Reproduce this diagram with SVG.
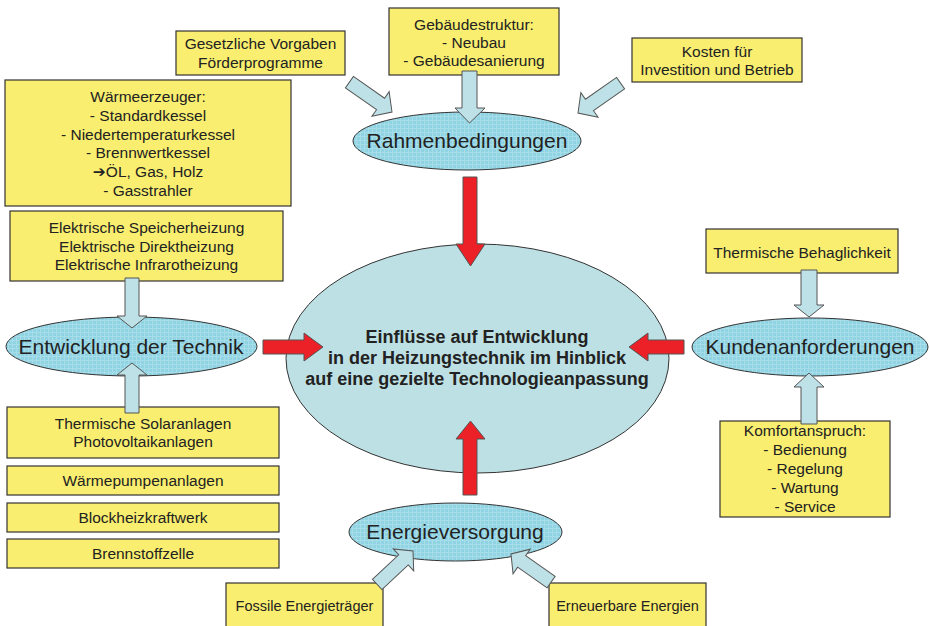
<svg xmlns="http://www.w3.org/2000/svg" width="929" height="626" viewBox="0 0 929 626">
<defs>
<pattern id="grid" width="4" height="4" patternUnits="userSpaceOnUse">
<rect width="4" height="4" fill="#90d4e4"/>
<path d="M0 0.5H4M0.5 0V4" stroke="#a6dde9" stroke-width="1"/>
</pattern>
</defs>
<style>
.box{fill:#f9ee6f;stroke:#333;stroke-width:1.2}
.t{font-family:"Liberation Sans",Arial,sans-serif;font-size:15.5px;fill:#222;text-anchor:middle}
.s{font-size:14.5px}
.el{fill:url(#grid);stroke:#333;stroke-width:1}
.et{font-family:"Liberation Sans",Arial,sans-serif;font-size:21px;fill:#222;text-anchor:middle}
.ct{font-family:"Liberation Sans",Arial,sans-serif;font-size:18px;font-weight:bold;fill:#222;text-anchor:middle}
.ba{fill:#bde1e6;stroke:#555;stroke-width:1}
.ra{fill:#ec2027;stroke:#555;stroke-width:1}
</style>
<rect width="929" height="626" fill="#fff"/>

<g id="center">
<ellipse cx="477.5" cy="358.5" rx="191.5" ry="114.5" fill="#bde0e4" stroke="#333" stroke-width="1"/>
<text class="ct" x="477" y="343">Einflüsse auf Entwicklung</text>
<text class="ct" x="477" y="364">in der Heizungstechnik im Hinblick</text>
<text class="ct" x="477" y="385">auf eine gezielte Technologieanpassung</text>
</g>

<g id="rahmen">
<ellipse class="el" cx="467" cy="141" rx="114" ry="29"/>
<text class="et" x="467" y="148">Rahmenbedingungen</text>
</g>
<g id="entwicklung">
<ellipse class="el" cx="131.5" cy="346.5" rx="125.5" ry="29.5"/>
<text class="et" x="131" y="354">Entwicklung der Technik</text>
</g>
<g id="kunden">
<ellipse class="el" cx="810" cy="347" rx="118" ry="29"/>
<text class="et" x="810" y="354">Kundenanforderungen</text>
</g>
<g id="energie">
<ellipse class="el" cx="455.5" cy="532" rx="106.5" ry="29"/>
<text class="et" x="455" y="539">Energieversorgung</text>
</g>

<g id="gesetzliche">
<rect class="box" x="176" y="31" width="169" height="44"/>
<text class="t" x="260.5" y="49">Gesetzliche Vorgaben</text>
<text class="t" x="260.5" y="68">Förderprogramme</text>
</g>
<g id="gebaeude">
<rect class="box" x="389" y="8" width="170" height="67"/>
<text class="t" x="474" y="30">Gebäudestruktur:</text>
<text class="t" x="474" y="48">- Neubau</text>
<text class="t" x="474" y="66">- Gebäudesanierung</text>
</g>
<g id="kosten">
<rect class="box" x="632" y="38" width="170" height="44"/>
<text class="t" x="717" y="57">Kosten für</text>
<text class="t" x="717" y="75">Investition und Betrieb</text>
</g>
<g id="waermeerzeuger">
<rect class="box" x="5" y="80" width="286" height="126"/>
<text class="t" x="148" y="102">Wärmeerzeuger:</text>
<text class="t" x="148" y="121">- Standardkessel</text>
<text class="t" x="148" y="140">- Niedertemperaturkessel</text>
<text class="t" x="148" y="158">- Brennwertkessel</text>
<text class="t" x="148" y="177"><tspan font-family="DejaVu Sans" font-weight="bold">➔</tspan>ÖL, Gas, Holz</text>
<text class="t" x="148" y="196">- Gasstrahler</text>
</g>
<g id="elektrisch">
<rect class="box" x="10" y="211" width="273" height="70"/>
<text class="t" x="146.5" y="233">Elektrische Speicherheizung</text>
<text class="t" x="146.5" y="252">Elektrische Direktheizung</text>
<text class="t" x="146.5" y="270">Elektrische Infrarotheizung</text>
</g>
<g id="solar">
<rect class="box" x="7" y="407" width="272" height="51"/>
<text class="t" x="143" y="429">Thermische Solaranlagen</text>
<text class="t" x="143" y="447">Photovoltaikanlagen</text>
</g>
<g id="waermepumpen">
<rect class="box" x="7" y="466" width="272" height="29"/>
<text class="t" x="143" y="486">Wärmepumpenanlagen</text>
</g>
<g id="bhkw">
<rect class="box" x="7" y="503" width="272" height="29"/>
<text class="t" x="143" y="523">Blockheizkraftwerk</text>
</g>
<g id="brennstoffzelle">
<rect class="box" x="7" y="539" width="272" height="29"/>
<text class="t" x="143" y="559">Brennstoffzelle</text>
</g>
<g id="behaglichkeit">
<rect class="box" x="706" y="229" width="192" height="44"/>
<text class="t" x="802" y="258">Thermische Behaglichkeit</text>
</g>
<g id="komfort">
<rect class="box" x="720" y="421" width="170" height="96"/>
<text class="t" x="805" y="436">Komfortanspruch:</text>
<text class="t" x="805" y="455">- Bedienung</text>
<text class="t" x="805" y="474">- Regelung</text>
<text class="t" x="805" y="493">- Wartung</text>
<text class="t" x="805" y="512">- Service</text>
</g>
<g id="fossil">
<rect class="box" x="226" y="583" width="157" height="50"/>
<text class="t s" x="304.5" y="611">Fossile Energieträger</text>
</g>
<g id="erneuerbar">
<rect class="box" x="549" y="583" width="157" height="50"/>
<text class="t s" x="627.5" y="611">Erneuerbare Energien</text>
</g>

<g id="connectors">
<polygon class="ba" points="-52,-7 -14,-7 -14,-15 0,0 -14,15 -14,7 -52,7" transform="translate(392,112) rotate(35)"/>
<polygon class="ba" points="-52,-7 -14,-7 -14,-15 0,0 -14,15 -14,7 -52,7" transform="translate(578,113) rotate(145)"/>
<polygon class="ba" points="-49,-7 -13,-7 -13,-15 0,0 -13,15 -13,7 -49,7" transform="translate(413,551) rotate(-43)"/>
<polygon class="ba" points="-49,-7 -13,-7 -13,-15 0,0 -13,15 -13,7 -49,7" transform="translate(511,554) rotate(-145)"/>
<polygon class="ba" points="462,71 477,71 477,108 485,108 469.5,123 455,108 462,108"/>
<polygon class="ba" points="125,278 139,278 139,316 147,316 132,328 117,316 125,316"/>
<polygon class="ba" points="125,413 139,413 139,375 147,375 132,363 117,375 125,375"/>
<polygon class="ba" points="801,270 817,270 817,305 824,305 809,317 794,305 801,305"/>
<polygon class="ba" points="801,424 817,424 817,387 824,387 809,373 794,387 801,387"/>
<polygon class="ra" points="463,177 477,177 477,244 485,244 470.5,266 456,244 463,244"/>
<polygon class="ra" points="463,495 477,495 477,439 485,439 470.5,421 456,439 463,439"/>
<polygon class="ra" points="263,340 304,340 304,333 323,347 304,361 304,354 263,354"/>
<polygon class="ra" points="684,340 648,340 648,333 629,347 648,361 648,354 684,354"/>
</g>
</svg>
